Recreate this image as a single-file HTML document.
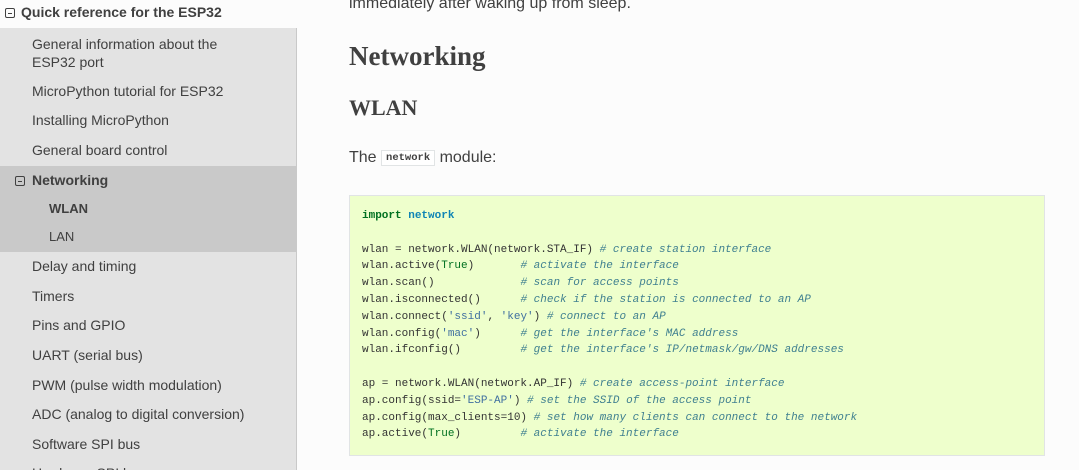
<!DOCTYPE html>
<html><head><meta charset="utf-8"><style>
*{margin:0;padding:0;box-sizing:border-box}
html,body{width:1079px;height:470px;overflow:hidden}
body{background:#fcfcfc;font-family:"Liberation Sans",sans-serif;position:relative;color:#404040}
#side{position:absolute;left:0;top:0;width:297px;height:470px;background:#fcfcfc}
.t{position:absolute;font-size:14px;color:#404040;white-space:nowrap}
.box{position:absolute;display:inline-block;width:10px;height:10px;border:1px solid #404040;border-radius:2px}
.box:after{content:"";position:absolute;left:2px;top:3.5px;width:4px;height:1px;background:#404040}
.code{position:absolute;font-family:"Liberation Mono",monospace;font-size:11px;color:#333;white-space:pre}
.c{color:#408090;font-style:italic}.k{color:#007020;font-weight:bold}.n{color:#0e84b5;font-weight:bold}.s{color:#4070a0}
</style></head><body>
<div id="side">
<span class="box" style="left:5px;top:8px"></span>
<div class="t" style="left:21px;top:4px;font-weight:bold">Quick reference for the ESP32</div>
<div style="position:absolute;left:0;top:28px;width:297px;height:442px;background:#e3e3e3;border-right:1px solid #c9c9c9"></div>
<div style="position:absolute;left:0;top:166px;width:296px;height:86px;background:#c9c9c9"></div>
<div class="t" style="left:32px;top:35px;line-height:18px">General information about the<br>ESP32 port</div>
<div class="t" style="left:32px;top:83px">MicroPython tutorial for ESP32</div>
<div class="t" style="left:32px;top:112px">Installing MicroPython</div>
<div class="t" style="left:32px;top:142px">General board control</div>
<span class="box" style="left:15px;top:176px"></span>
<div class="t" style="left:32px;top:172px;font-weight:bold">Networking</div>
<div class="t" style="left:49px;top:201px;font-size:13px;font-weight:bold">WLAN</div>
<div class="t" style="left:49px;top:229px;font-size:13px">LAN</div>
<div class="t" style="left:32px;top:258px">Delay and timing</div>
<div class="t" style="left:32px;top:288px">Timers</div>
<div class="t" style="left:32px;top:317px">Pins and GPIO</div>
<div class="t" style="left:32px;top:347px">UART (serial bus)</div>
<div class="t" style="left:32px;top:377px">PWM (pulse width modulation)</div>
<div class="t" style="left:32px;top:406px">ADC (analog to digital conversion)</div>
<div class="t" style="left:32px;top:436px">Software SPI bus</div>
<div class="t" style="left:32px;top:465px">Hardware SPI bus</div>
</div>
<div class="t" style="left:349px;top:-5px;font-size:16px">immediately after waking up from sleep.</div>
<div class="t" style="left:349px;top:41px;font-size:27px;font-weight:bold;font-family:'Liberation Serif',serif">Networking</div>
<div class="t" style="left:349px;top:95px;font-size:22px;font-weight:bold;font-family:'Liberation Serif',serif">WLAN</div>
<div class="t" style="left:349px;top:149px;font-size:16px">The <span style="display:inline-block;font-family:'Liberation Mono',monospace;font-size:10.5px;border:1px solid #e1e4e5;background:#fff;padding:1px 4px;vertical-align:2px;font-weight:bold">network</span> module:</div>
<div style="position:absolute;left:349px;top:195px;width:696px;height:261px;background:#eeffcc;border:1px solid #e1e4e5"></div>
<div class="code" style="left:362px;top:208px;line-height:16.8px"><span class="k">import</span> <span class="n">network</span>

wlan = network.WLAN(network.STA_IF) <span class="c"># create station interface</span>
wlan.active(<span class="k" style="font-weight:normal">True</span>)       <span class="c"># activate the interface</span>
wlan.scan()             <span class="c"># scan for access points</span>
wlan.isconnected()      <span class="c"># check if the station is connected to an AP</span>
wlan.connect(<span class="s">'ssid'</span>, <span class="s">'key'</span>) <span class="c"># connect to an AP</span>
wlan.config(<span class="s">'mac'</span>)      <span class="c"># get the interface's MAC address</span>
wlan.ifconfig()         <span class="c"># get the interface's IP/netmask/gw/DNS addresses</span>

ap = network.WLAN(network.AP_IF) <span class="c"># create access-point interface</span>
ap.config(ssid=<span class="s">'ESP-AP'</span>) <span class="c"># set the SSID of the access point</span>
ap.config(max_clients=10) <span class="c"># set how many clients can connect to the network</span>
ap.active(<span class="k" style="font-weight:normal">True</span>)         <span class="c"># activate the interface</span></div>
</body></html>
